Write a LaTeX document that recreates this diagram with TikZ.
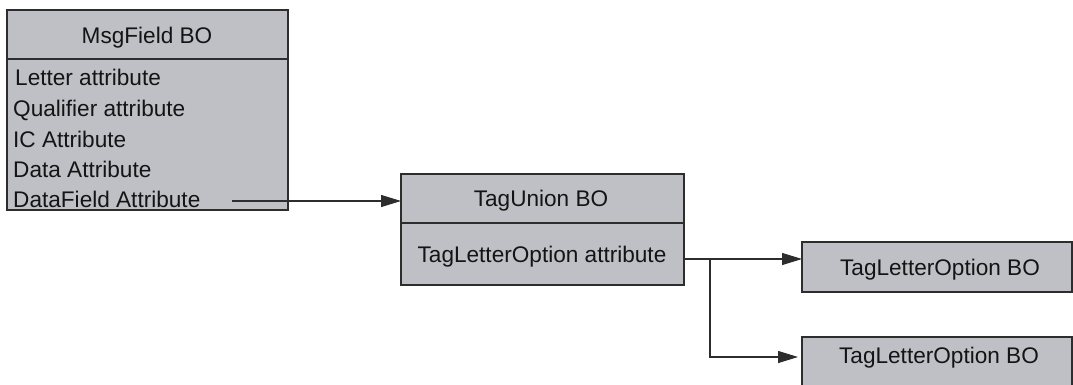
\documentclass[tikz,border=0pt]{standalone}
\usepackage{fontspec}
\setmainfont{Liberation Sans}
\usetikzlibrary{arrows.meta}
\definecolor{boxgray}{RGB}{191,192,197}
\definecolor{edge}{RGB}{45,45,45}
\begin{document}
\begin{tikzpicture}[x=1pt,y=-1pt,
  box/.style={draw=edge, fill=boxgray, line width=1.2pt, rectangle, inner sep=0pt, outer sep=0pt},
  txt/.style={anchor=base, inner sep=0pt, font=\fontsize{22.6}{26}\selectfont, text=black!92},
  item/.style={anchor=base west, inner sep=0pt, font=\fontsize{22.6}{26}\selectfont, text=black!92},
  conn/.style={draw=edge, line width=1.1pt},
  arr/.style={conn, -{Triangle[length=20pt,width=12pt]}}]
\useasboundingbox (0,0) rectangle (1073,384);
% MsgField BO
\node[box, minimum width=281pt, minimum height=200pt] (mf) at (147.5,110) {};
\draw[conn] (mf.west |- 0,59) coordinate (mfl) -- (mf.east |- mfl);
\node[txt] (mft) at (147,43) {MsgField BO};
\node[item] (i1) at (15,85) {Letter attribute};
\node[item] (i2) at (13,116) {Qualifier attribute};
\node[item] (i3) at (13,147) {IC Attribute};
\node[item] (i4) at (13,177) {Data Attribute};
\node[item] (i5) at (13,207) {DataField Attribute};
% TagUnion BO
\node[box, minimum width=283pt, minimum height=111pt] (tu) at (542.5,229.5) {};
\draw[conn] (tu.west |- 0,223) coordinate (tul) -- (tu.east |- tul);
\node[txt] (tut) at (541,206) {TagUnion BO};
\node[txt] (tua) at (542,262) {TagLetterOption attribute};
% TagLetterOption BO boxes
\node[box, minimum width=270pt, minimum height=50pt] (t1) at (937,267) {};
\node[txt] (t1t) at (940,275) {TagLetterOption BO};
\node[box, minimum width=270pt, minimum height=50pt] (t2) at (937,362) {};
\node[txt] (t2t) at (939,363) {TagLetterOption BO};
% connectors
\coordinate (s1) at (232,201);
\draw[arr] (s1) -- (tu.west |- s1);
\coordinate (j) at (710,259);
\coordinate (k) at (710,357);
\draw[conn] (tu.east |- j) -- (j);
\draw[arr] (j) -- (t1.west |- j);
\draw[arr, shorten >=4pt] (j) -- (k) -- (t2.west |- k);
\end{tikzpicture}
\end{document}
